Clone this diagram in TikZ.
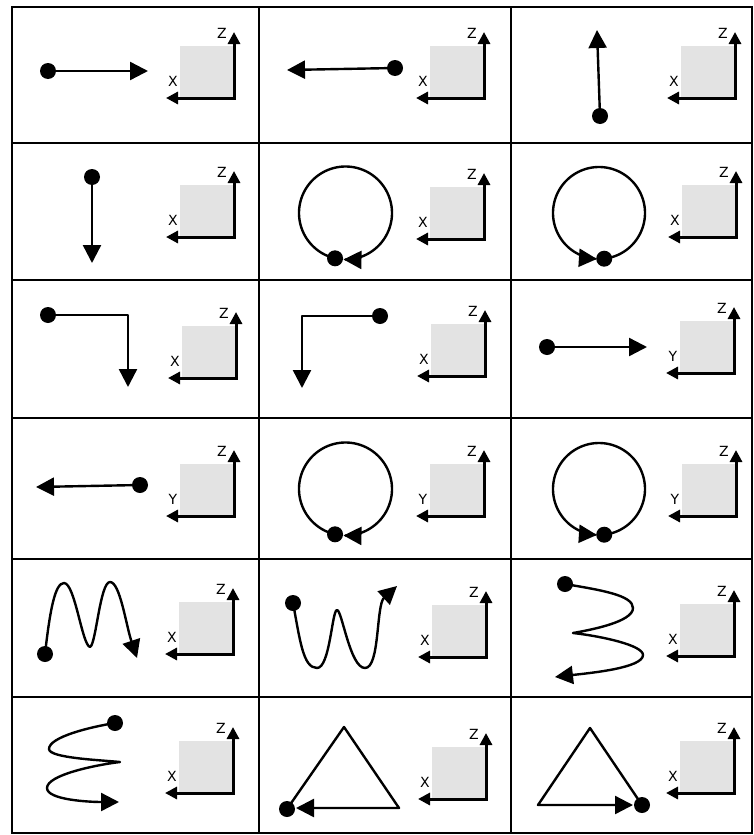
\documentclass[tikz,border=0pt]{standalone}
\usepackage{fontspec}
\newfontfamily\lblfont{DejaVu Sans}
\usetikzlibrary{arrows.meta}
\definecolor{boxgray}{HTML}{E3E3E3}
\tikzset{
  gridline/.style={line width=2.6pt},
  mainline/.style={line width=2.4pt, line join=round},
  mainarrow/.style={mainline, -{Triangle[length=18pt,width=18pt]}},
  axisline/.style={line width=3pt, {Triangle[length=12pt,width=12pt]}-{Triangle[length=12pt,width=12pt]}},
  lbl/.style={font=\lblfont\fontsize{14}{16}\selectfont, inner sep=0pt},
  dot/.style={fill=black}
}
\newcommand{\axisicon}[4]{%
  \coordinate (#1) at (#2,#3);
  \fill[boxgray] ([shift={(-54,-52)}]#1) rectangle (#1);
  \draw[axisline] ([shift={(-68,0)}]#1) -- (#1) -- ([shift={(0,-66)}]#1);
  \node[lbl] (#1z) at ([shift={(-12,-65)}]#1) {Z};
  \node[lbl] (#1h) at ([shift={(-61,-17)}]#1) {#4};
}
\begin{document}
\begin{tikzpicture}[x=1pt,y=-1pt]
\useasboundingbox (0,0) rectangle (753,835);
% grid
\draw[gridline] (12,7) rectangle (752,833);
\draw[gridline] (259,7) -- (259,833);
\draw[gridline] (511,7) -- (511,833);
\foreach \yy in {143,280,418,559,697} \draw[gridline] (12,\yy) -- (752,\yy);

% axis icons
\axisicon{a00}{234}{98}{X}
\axisicon{a10}{484}{98}{X}
\axisicon{a20}{735}{98}{X}
\axisicon{a01}{234}{237}{X}
\axisicon{a11}{484}{239}{X}
\axisicon{a21}{736}{237}{X}
\axisicon{a02}{236}{378}{X}
\axisicon{a12}{485}{376}{X}
\axisicon{a22}{734}{373}{Y}
\axisicon{a03}{234}{516}{Y}
\axisicon{a13}{484}{516}{Y}
\axisicon{a23}{736}{516}{Y}
\axisicon{a04}{233}{654}{X}
\axisicon{a14}{486}{657}{X}
\axisicon{a24}{734}{656}{X}
\axisicon{a05}{233}{793}{X}
\axisicon{a15}{486}{799}{X}
\axisicon{a25}{734}{793}{X}

% row 0
\coordinate (d00) at (48,71); \coordinate (t00) at (148,71);
\draw[mainarrow] (d00) -- (t00); \fill[dot] (d00) circle[radius=8];
\coordinate (d10) at (395,68); \coordinate (t10) at (287,70);
\draw[mainarrow] (d10) -- (t10); \fill[dot] (d10) circle[radius=8];
\coordinate (d20) at (600,116); \coordinate (t20) at (597,30);
\draw[mainarrow] (d20) -- (t20); \fill[dot] (d20) circle[radius=8];

% row 1
\coordinate (d01) at (92,177); \coordinate (t01) at (92,263);
\draw[mainarrow] (d01) -- (t01); \fill[dot] (d01) circle[radius=8];
\coordinate (d11) at ({345.5+46.5*cos(103)},{213+46.5*sin(103)});
\draw[mainarrow] plot[domain=103:452.5, samples=150] ({345.5+46.5*cos(\x)},{213+46.5*sin(\x)});
\fill[dot] (d11) circle[radius=8];
\coordinate (d21) at ({599+46*cos(83.5)},{213+46*sin(83.5)});
\draw[mainarrow] plot[domain=83.5:-267.4, samples=150] ({599+46*cos(\x)},{213+46*sin(\x)});
\fill[dot] (d21) circle[radius=8];

% row 2
\coordinate (d02) at (48,315); \coordinate (b02) at (128,315); \coordinate (t02) at (128,387);
\draw[mainarrow] (d02) -- (b02) -- (t02); \fill[dot] (d02) circle[radius=8];
\coordinate (d12) at (380,316); \coordinate (b12) at (302,316); \coordinate (t12) at (302,388);
\draw[mainarrow] (d12) -- (b12) -- (t12); \fill[dot] (d12) circle[radius=8];
\coordinate (d22) at (547,347); \coordinate (t22) at (647,347);
\draw[mainarrow] (d22) -- (t22); \fill[dot] (d22) circle[radius=8];

% row 3
\coordinate (d03) at (140,485); \coordinate (t03) at (36,487);
\draw[mainarrow] (d03) -- (t03); \fill[dot] (d03) circle[radius=8];
\coordinate (d13) at ({345.5+46.5*cos(103)},{489+46.5*sin(103)});
\draw[mainarrow] plot[domain=103:452.5, samples=150] ({345.5+46.5*cos(\x)},{489+46.5*sin(\x)});
\fill[dot] (d13) circle[radius=8];
\coordinate (d23) at ({599+46*cos(83.5)},{489+46*sin(83.5)});
\draw[mainarrow] plot[domain=83.5:-267.4, samples=150] ({599+46*cos(\x)},{489+46*sin(\x)});
\fill[dot] (d23) circle[radius=8];

% row 4
\coordinate (d04) at (45,654); \coordinate (t04) at (137,658);
\draw[mainarrow] (d04) .. controls (50,610) and (55,583) .. (64,583)
  .. controls (75,583) and (82,645) .. (90,647)
  .. controls (96,645) and (100,582) .. (110,582)
  .. controls (120,582) and (126,625) .. (t04);
\fill[dot] (d04) circle[radius=8];
\coordinate (d14) at (293,603); \coordinate (t14) at (397,586);
\draw[mainarrow] (d14) .. controls (300,640) and (303,668) .. (317,668)
  .. controls (330,668) and (332,610) .. (337,610)
  .. controls (342,610) and (350,668) .. (365,668)
  .. controls (380,668) and (376,605) .. (t14);
\fill[dot] (d14) circle[radius=8];
\coordinate (d24) at (565,584); \coordinate (t24) at (555,677);
\draw[mainarrow] (d24) .. controls (600,590) and (633,595) .. (633,608)
  .. controls (633,622) and (590,630) .. (573,633)
  .. controls (600,636) and (643,645) .. (643,655)
  .. controls (643,668) and (590,673) .. (t24);
\fill[dot] (d24) circle[radius=8];

% row 5
\coordinate (d05) at (115,723); \coordinate (t05) at (119,802);
\draw[mainarrow] (d05) .. controls (90,727) and (49,737) .. (49,749)
  .. controls (49,758) and (100,760) .. (120,762)
  .. controls (95,765) and (47,775) .. (47,788)
  .. controls (47,800) and (90,802) .. (t05);
\fill[dot] (d05) circle[radius=8];
\coordinate (d15) at (287,809); \coordinate (p15) at (344,727); \coordinate (r15) at (399,808); \coordinate (t15) at (296,808);
\draw[mainarrow] (d15) -- (p15) -- (r15) -- (t15);
\fill[dot] (d15) circle[radius=8];
\coordinate (d25) at (642,805); \coordinate (p25) at (590,728); \coordinate (l25) at (538,805); \coordinate (t25) at (633,805);
\draw[mainarrow] (d25) -- (p25) -- (l25) -- (t25);
\fill[dot] (d25) circle[radius=8];
\end{tikzpicture}
\end{document}
